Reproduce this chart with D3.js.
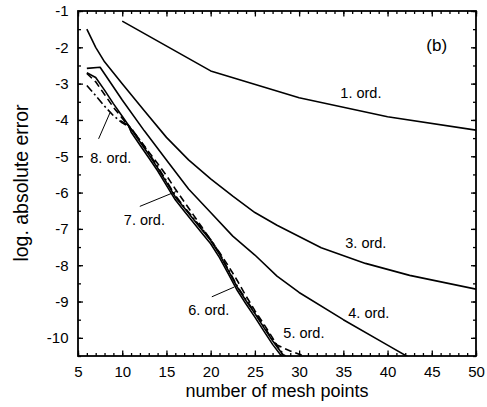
<!DOCTYPE html>
<html>
<head>
<meta charset="utf-8">
<script src="https://cdn.jsdelivr.net/npm/d3@7"></script>
<style>
  body { margin: 0; background: #fff; }
  text { font-family: "Liberation Sans", Arial, Helvetica, sans-serif; fill: #000; }
</style>
</head>
<body>
<svg id="chart" width="487" height="407"></svg>
<script>
// Convergence of the absolute error (log10) against the number of mesh points,
// one curve per approximation order.
const xTickValues = [5, 10, 15, 20, 25, 30, 35, 40, 45, 50];
const yTickValues = [-1, -2, -3, -4, -5, -6, -7, -8, -9, -10];

const ord1 = [[10, -1.28], [20, -2.65], [30, -3.39], [40, -3.91], [50, -4.28]];
const ord3 = [[6, -1.5], [7, -2.0], [8, -2.4], [10, -3.0], [12.5, -3.75], [15, -4.48],
              [17.5, -5.1], [20, -5.62], [22.5, -6.1], [25, -6.55], [27.5, -6.9],
              [32.5, -7.52], [37.5, -7.95], [42.5, -8.28], [50, -8.66]];
const ord4 = [[6, -2.58], [7.5, -2.55], [10, -3.45], [12.5, -4.3], [15, -5.1], [17.5, -5.9],
              [20, -6.55], [22.5, -7.2], [25, -7.72], [27.5, -8.3], [30, -8.75],
              [35, -9.5], [40, -10.2], [42.5, -10.55]];
const ord5 = [[6, -2.72], [7, -2.95], [8, -3.3], [9, -3.65], [10, -3.95], [11, -4.25],
              [12, -4.55], [13, -4.88], [14, -5.2], [15, -5.53], [16, -5.9], [17, -6.25],
              [18, -6.6], [19, -6.95], [20, -7.3], [21, -7.65], [22, -8.02], [23, -8.42],
              [24, -8.85], [25, -9.25], [26, -9.62], [27, -10.0], [27.5, -10.2],
              [29, -10.36], [30.5, -10.5]];
const ord6 = [[9.8, -4.02], [10.7, -4.15], [11, -4.33], [12, -4.69], [13, -5.04], [14, -5.4],
              [15, -5.8], [16, -6.2], [17, -6.51], [18, -6.81], [19, -7.11], [20, -7.41],
              [21, -7.79], [22, -8.24], [23, -8.69], [24, -9.07], [25, -9.43], [26, -9.81],
              [27, -10.18], [28, -10.5], [28.2, -10.55]];
const ord7 = [[6, -2.7], [7, -2.83], [8, -3.18], [9, -3.55], [10, -3.9], [11, -4.25],
              [12, -4.6], [13, -4.95], [14, -5.32], [15, -5.72], [16, -6.12], [17, -6.42],
              [18, -6.72], [19, -7.02], [20, -7.32], [21, -7.7], [22, -8.15], [23, -8.6],
              [24, -8.98], [25, -9.33], [26, -9.71], [27, -10.08], [28, -10.41], [28.5, -10.55]];
const ord8 = [[6, -3.05], [7, -3.33], [8, -3.62], [9, -3.88], [10, -4.08], [11, -4.22],
              [12, -4.56], [13, -4.91], [14, -5.28], [15, -5.68], [16, -6.08], [17, -6.39],
              [18, -6.69], [19, -6.99], [20, -7.29], [21, -7.67], [22, -8.12], [23, -8.57],
              [24, -8.95], [25, -9.3], [26, -9.68], [27, -10.05], [28, -10.38], [28.6, -10.55]];

// Curve labels: [text, x, y] in data units (text start / baseline)
const curveLabels = [
  ["1. ord.", 34.66, -3.395],
  ["3. ord.", 35.22, -7.52],
  ["4. ord.", 35.56, -9.45],
  ["5. ord.", 28.22, -10.0],
  ["6. ord.", 17.47, -9.37],
  ["7. ord.", 10.18, -6.89],
  ["8. ord.", 6.39, -5.18]
];
// Leader lines from a label to its curve: [x1, y1, x2, y2] in data units
const leaders = [
  [20.13, -8.87, 22.67, -8.6],
  [11.99, -6.38, 16.1, -5.97],
  [7.33, -4.52, 8.62, -3.8]
];
const panelTag = ["(b)", 44.38, -2.10];

const xTitle = "number of mesh points";
const yTitle = "log. absolute error";

const margin = { left: 78, top: 11, right: 11, bottom: 51 };
const W = 487, H = 407;
const iw = W - margin.left - margin.right;
const ih = H - margin.top - margin.bottom;

const svg = d3.select("#chart");
const g = svg.append("g").attr("transform", `translate(${margin.left},${margin.top})`);

const x = d3.scaleLinear().domain([5, 50]).range([0, iw]);
const y = d3.scaleLinear().domain([-10.5, -1]).range([ih, 0]);

g.append("clipPath").attr("id", "plotClip")
  .append("rect").attr("width", iw).attr("height", ih);

// Curves
const line = d3.line().x(d => x(d[0])).y(d => y(d[1]));
const curves = [
  { data: ord1, dash: null },
  { data: ord3, dash: null },
  { data: ord4, dash: null },
  { data: ord5, dash: "7,4" },
  { data: ord6, dash: null },
  { data: ord7, dash: null },
  { data: ord8, dash: "8,3,2,3" }
];
const curveLayer = g.append("g").attr("clip-path", "url(#plotClip)");
curveLayer.selectAll("path").data(curves).join("path")
  .attr("d", c => line(c.data))
  .attr("fill", "none")
  .attr("stroke", "#000")
  .attr("stroke-width", 1.6)
  .attr("stroke-linejoin", "round")
  .attr("stroke-dasharray", c => c.dash);

// Axes: inward ticks on all four sides, minor ticks without labels
const fmt = d => String(d);
const minorX = d3.range(5, 51, 1);
const minorY = d3.range(-10.5, -0.99, 0.5);

function styleAxis(sel) {
  sel.select(".domain").remove();
  sel.selectAll("line").attr("stroke", "#000").attr("stroke-width", 1.3);
  sel.selectAll("text").attr("font-size", 15).attr("fill", "#000")
    .attr("font-family", '"Liberation Sans", Arial, sans-serif');
}

g.append("g").attr("transform", `translate(0,${ih})`)
  .call(d3.axisBottom(x).tickValues(minorX).tickSize(-3).tickFormat(""))
  .call(styleAxis);
g.append("g").attr("transform", `translate(0,${ih})`)
  .call(d3.axisBottom(x).tickValues(xTickValues).tickSize(-5.5).tickPadding(10).tickFormat(fmt))
  .call(styleAxis);
g.append("g")
  .call(d3.axisTop(x).tickValues(minorX).tickSize(-3).tickFormat(""))
  .call(styleAxis);
g.append("g")
  .call(d3.axisTop(x).tickValues(xTickValues).tickSize(-5.5).tickFormat(""))
  .call(styleAxis);

g.append("g")
  .call(d3.axisLeft(y).tickValues(minorY).tickSize(-3).tickFormat(""))
  .call(styleAxis);
g.append("g")
  .call(d3.axisLeft(y).tickValues(yTickValues).tickSize(-5).tickPadding(9.5).tickFormat(fmt))
  .call(styleAxis);
g.append("g").attr("transform", `translate(${iw},0)`)
  .call(d3.axisRight(y).tickValues(minorY).tickSize(-3).tickFormat(""))
  .call(styleAxis);
g.append("g").attr("transform", `translate(${iw},0)`)
  .call(d3.axisRight(y).tickValues(yTickValues).tickSize(-5).tickFormat(""))
  .call(styleAxis);

// Frame
g.append("rect")
  .attr("width", iw).attr("height", ih)
  .attr("fill", "none").attr("stroke", "#000").attr("stroke-width", 1.8);

// Curve labels and leader lines
g.selectAll(".curve-label").data(curveLabels).join("text")
  .attr("class", "curve-label")
  .attr("x", d => x(d[1])).attr("y", d => y(d[2]))
  .attr("font-size", 14.5)
  .text(d => d[0]);

g.selectAll(".leader").data(leaders).join("line")
  .attr("class", "leader")
  .attr("x1", d => x(d[0])).attr("y1", d => y(d[1]))
  .attr("x2", d => x(d[2])).attr("y2", d => y(d[3]))
  .attr("stroke", "#000").attr("stroke-width", 1);

g.append("text")
  .attr("x", x(panelTag[1])).attr("y", y(panelTag[2]))
  .attr("font-size", 17)
  .text(panelTag[0]);

// Axis titles
svg.append("text")
  .attr("x", margin.left + iw / 2).attr("y", 397)
  .attr("text-anchor", "middle")
  .attr("font-size", 18)
  .text(xTitle);

svg.append("text")
  .attr("transform", `translate(28,${183}) rotate(-90)`)
  .attr("text-anchor", "middle")
  .attr("font-size", 19.5)
  .text(yTitle);
</script>
</body>
</html>
